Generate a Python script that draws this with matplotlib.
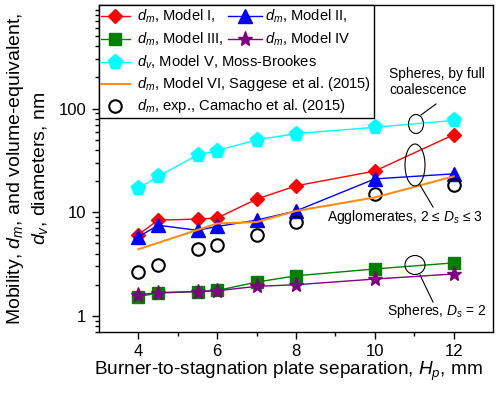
import matplotlib
matplotlib.use("Agg")
import matplotlib.pyplot as plt
from matplotlib.patches import Ellipse, Rectangle
from matplotlib.ticker import LogLocator, FixedLocator, NullFormatter

plt.rcParams['font.family'] = ['Liberation Sans', 'DejaVu Sans']
plt.rcParams['mathtext.fontset'] = 'custom'
plt.rcParams['mathtext.rm'] = 'Liberation Sans'
plt.rcParams['mathtext.it'] = 'Liberation Sans:italic'

# ---- data ----
hp = [4, 4.5, 5.5, 6, 7, 8, 10, 12]
model1 = [6.1, 8.4, 8.6, 8.8, 13.4, 18.0, 25.0, 56.0]
model2 = [5.8, 7.5, 6.7, 7.3, 8.4, 10.3, 21.0, 23.5]
model3 = [1.54, 1.66, 1.72, 1.76, 2.12, 2.44, 2.84, 3.25]
model4 = [1.60, 1.68, 1.72, 1.75, 1.93, 2.00, 2.27, 2.54]
model5 = [17.0, 22.2, 35.7, 39.4, 50.0, 57.5, 66.0, 77.0]
hp6 = [4, 6, 7, 8, 10, 12]
model6 = [4.4, 7.8, 8.05, 10.3, 13.9, 22.2]
exp = [2.66, 3.13, 4.47, 4.82, 6.1, 8.05, 15.0, 18.3]

xticks = [4, 6, 8, 10, 12]
yticks = [1, 10, 100]

fig = plt.figure(figsize=(5, 4), dpi=100)
ax = fig.add_axes([0.198, 0.17, 0.788, 0.8175])

RED, BLUE, GREEN, PURPLE, CYAN, ORANGE = '#ff0000', '#0000ff', '#008000', '#800080', '#00ffff', '#ff8c1a'

ax.plot(hp, model5, '-', color=CYAN, lw=1, marker='p', ms=11, mec=CYAN, zorder=3)
ax.plot(hp, model1, '-', color=RED, lw=1, marker='D', ms=7.5, mec=RED, zorder=3)
ax.plot(hp, model2, '-', color=BLUE, lw=1, marker='^', ms=10.5, mec=BLUE, zorder=3)
ax.plot(hp6, model6, '-', color=ORANGE, lw=1.5, zorder=4)
ax.plot(hp, exp, 'o', ms=9, mfc='none', mec='black', mew=1.5, zorder=3)
ax.plot(hp, model3, '-', color=GREEN, lw=1, marker='s', ms=8, mec=GREEN, zorder=3)
ax.plot(hp, model4, '-', color=PURPLE, lw=1, marker='*', ms=11, mec=PURPLE, zorder=3)

ax.set_yscale('log')
ax.set_xlim(3, 13)
ax.set_ylim(0.7, 1000)
ax.xaxis.set_major_locator(FixedLocator(xticks))
ax.xaxis.set_minor_locator(FixedLocator([5, 7, 9, 11]))
ax.set_xticklabels([str(t) for t in xticks])
ax.yaxis.set_major_locator(FixedLocator(yticks))
ax.set_yticklabels([str(t) for t in yticks])
ax.yaxis.set_minor_locator(LogLocator(base=10, subs=range(2, 10)))
ax.yaxis.set_minor_formatter(NullFormatter())
ax.tick_params(which='major', direction='out', length=5, width=1, labelsize=12, top=False, right=False, pad=4)
ax.tick_params(which='minor', direction='out', length=3, width=1, top=False, right=False)
for s in ax.spines.values():
    s.set_linewidth(1)

ax.set_xlabel('Burner-to-stagnation plate separation, $H_p$, mm', fontsize=13.7)
ax.xaxis.set_label_coords(0.48, -0.085)
ax.set_ylabel('Mobility, $d_m$, and volume-equivalent,\n$d_v$, diameters, nm', fontsize=14,
              linespacing=1.3, labelpad=6)

# ---- custom legend ----
T = ax.transAxes
ax.add_patch(Rectangle((0, 0.654), 0.698, 0.346, transform=T, fc='white', ec='black', lw=1, zorder=10, clip_on=False))
rows = [0.966, 0.896, 0.826, 0.758, 0.691]
fs = 10.6

def handle(x0, x1, xm, y, color, marker, ms, ls='-', mfc=None, mec=None, lw=1):
    if ls:
        ax.plot([x0, x1], [y, y], ls, color=color, lw=lw, transform=T, zorder=11, clip_on=False)
    if marker:
        ax.plot([xm], [y], marker=marker, ms=ms, color=color, mfc=mfc if mfc else color,
                mec=mec if mec else color, mew=1.5 if mfc == 'none' else 1, transform=T, zorder=12, clip_on=False, ls='none')

def label(x, y, s):
    ax.text(x, y, s, transform=T, fontsize=fs, va='center', ha='left', zorder=12)

handle(0.005, 0.079, 0.041, rows[0], RED, 'D', 7.5)
label(0.096, rows[0], '$d_m$, Model I,')
handle(0.327, 0.414, 0.371, rows[0], BLUE, '^', 10.5)
label(0.421, rows[0], '$d_m$, Model II,')
handle(0.005, 0.079, 0.041, rows[1], GREEN, 's', 8)
label(0.096, rows[1], '$d_m$, Model III,')
handle(0.327, 0.414, 0.371, rows[1], PURPLE, '*', 11)
label(0.421, rows[1], '$d_m$, Model IV')
handle(0.005, 0.079, 0.041, rows[2], CYAN, 'p', 11)
label(0.096, rows[2], '$d_v$, Model V, Moss-Brookes')
handle(0.005, 0.079, 0.041, rows[3], ORANGE, None, 0, lw=1.5)
label(0.096, rows[3], '$d_m$, Model VI, Saggese et al. (2015)')
handle(0.005, 0.079, 0.041, rows[4], 'black', 'o', 9, ls=None, mfc='none', mec='black')
label(0.096, rows[4], '$d_m$, exp., Camacho et al. (2015)')

# ---- annotations ----
def fx(px):
    return (px - 99) / 394.0

def fy(py):
    return (332 - py) / 327.0

def ellipse(cx, cy, w, h):
    ax.add_patch(Ellipse((fx(cx), fy(cy)), w / 394.0, h / 327.0, transform=T, fc='none', ec='black', lw=0.8, zorder=6))

def leader(x0, y0, x1, y1):
    ax.plot([fx(x0), fx(x1)], [fy(y0), fy(y1)], '-', color='black', lw=0.8, transform=T, zorder=6)

afs = 10
ellipse(416, 124, 15, 19)
leader(421, 115, 436, 104)
ax.text(fx(389), fy(82), 'Spheres, by full\ncoalescence', transform=T, fontsize=afs, va='center', ha='left', linespacing=1.15)

ellipse(415, 165, 20, 42)
leader(420, 185, 433, 207)
ax.text(fx(483), fy(217), 'Agglomerates, 2 \u2264 $D_s$ \u2264 3', transform=T, fontsize=afs, va='center', ha='right')

ellipse(415, 265, 20, 19)
leader(420, 275, 433, 302)
ax.text(fx(487), fy(311), 'Spheres, $D_s$ = 2', transform=T, fontsize=afs, va='center', ha='right')

fig.savefig('out.png', dpi=100)
